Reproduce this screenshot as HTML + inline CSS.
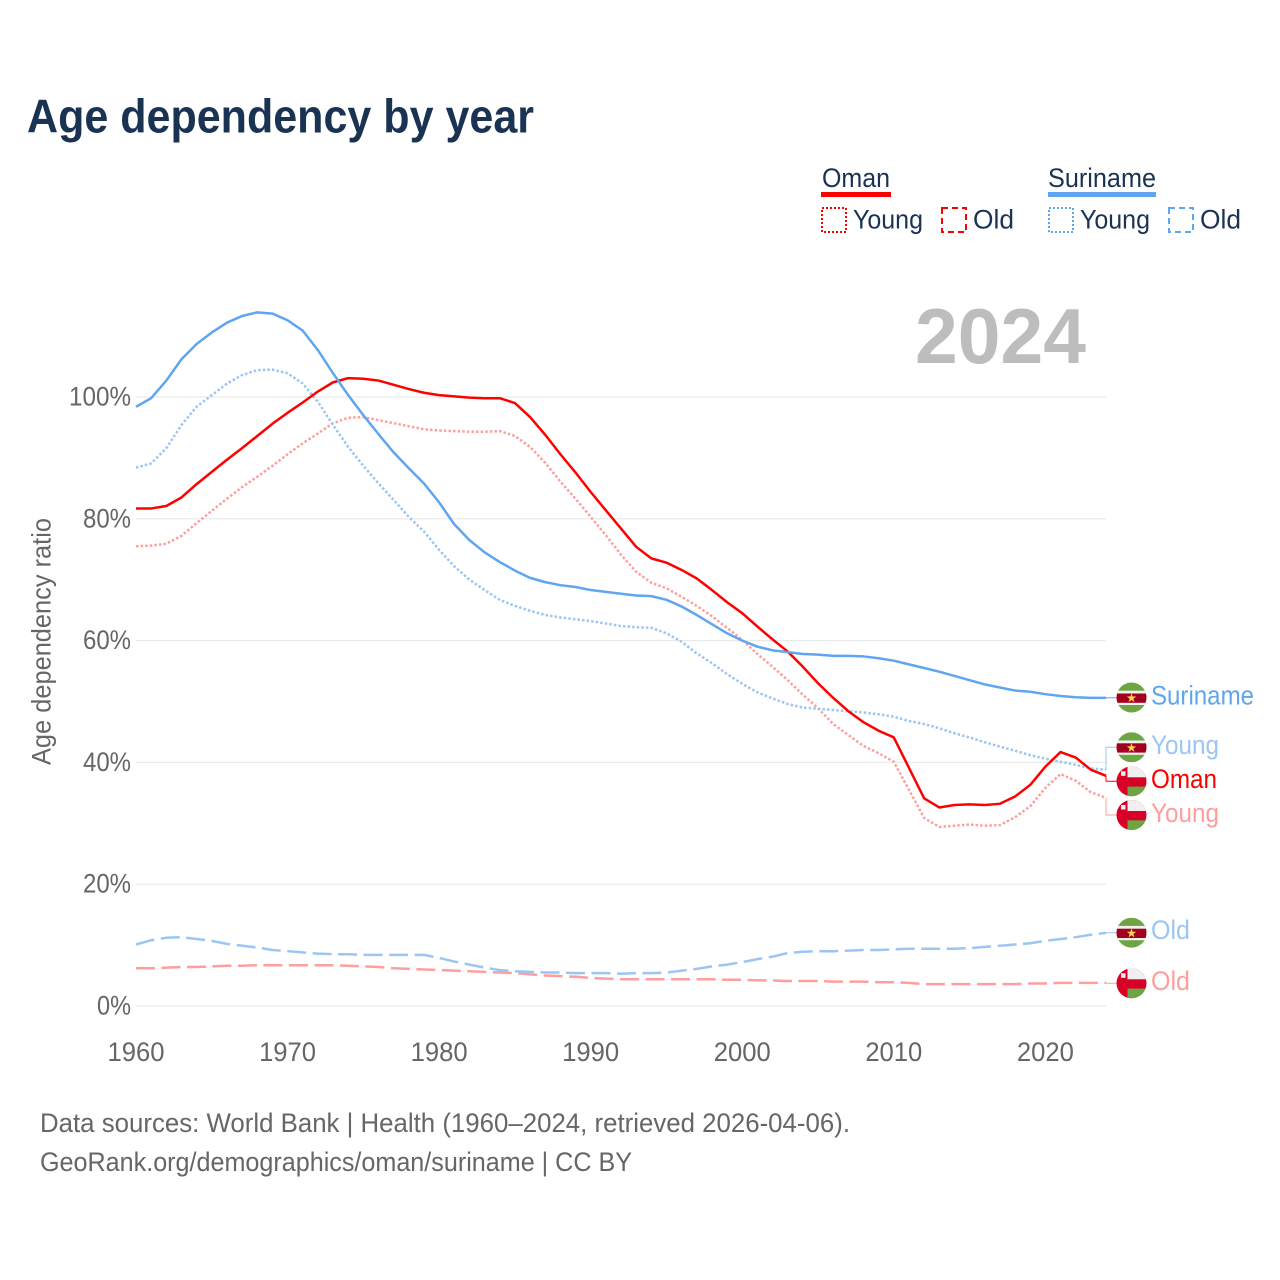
<!DOCTYPE html>
<html lang="en">
<head>
<meta charset="utf-8">
<title>Age dependency by year</title>
<style>
html,body{margin:0;padding:0;background:#fff;}
svg{display:block;}
text{font-family:"Liberation Sans",sans-serif;}
</style>
</head>
<body>
<svg id="chart" xmlns="http://www.w3.org/2000/svg" width="1280" height="1280" viewBox="0 0 1280 1280">
  <defs>
    <clipPath id="flag-clip"><circle cx="0" cy="0" r="15"></circle></clipPath>
    <g id="flag-sr" clip-path="url(#flag-clip)">
      <rect x="-15" y="-15" width="30" height="30" fill="#6da544"></rect>
      <rect x="-15" y="-6.8" width="30" height="14.3" fill="#f0f0f0"></rect>
      <rect x="-15" y="-4" width="30" height="9.3" fill="#a2001d"></rect>
      <polygon transform="translate(0 0.6)" points="0,-5 1.12,-1.55 4.76,-1.55 1.82,0.59 2.94,4.05 0,1.91 -2.94,4.05 -1.82,0.59 -4.76,-1.55 -1.12,-1.55" fill="#ffda44"></polygon>
    </g>
    <g id="flag-om" clip-path="url(#flag-clip)">
      <rect x="-15" y="-15" width="30" height="30" fill="#d80027"></rect>
      <rect x="-4" y="-15" width="19" height="11" fill="#f0f0f0"></rect>
      <rect x="-4" y="5.3" width="19" height="10" fill="#6da544"></rect>
      <rect x="-10.5" y="-10" width="4.5" height="4.5" fill="#f0f0f0"></rect>
    </g>
  </defs>

  <text x="27" y="132.5" font-size="47.5" font-weight="700" fill="#1a3353" textLength="507" lengthAdjust="spacingAndGlyphs">Age dependency by year</text>

  <g>
    <text x="822" y="187" font-size="26.5" fill="#1a3353" textLength="68" lengthAdjust="spacingAndGlyphs">Oman</text>
    <rect x="821" y="192" width="70" height="5" fill="#ff0000"></rect>
    <rect x="822" y="208" width="24" height="24" fill="none" stroke="#ff0000" stroke-width="2" stroke-dasharray="2 2"></rect>
    <text x="853" y="228.5" font-size="26.5" fill="#1a3353" textLength="70" lengthAdjust="spacingAndGlyphs">Young</text>
    <rect x="942" y="208" width="24" height="24" fill="none" stroke="#ff0000" stroke-width="2" stroke-dasharray="6 4"></rect>
    <text x="973" y="228.5" font-size="26.5" fill="#1a3353" textLength="41" lengthAdjust="spacingAndGlyphs">Old</text>

    <text x="1048" y="187" font-size="26.5" fill="#1a3353" textLength="108" lengthAdjust="spacingAndGlyphs">Suriname</text>
    <rect x="1048" y="192" width="108" height="5" fill="#5fa5ef"></rect>
    <rect x="1049" y="208" width="24" height="24" fill="none" stroke="#5fa5ef" stroke-width="2" stroke-dasharray="2 2"></rect>
    <text x="1080" y="228.5" font-size="26.5" fill="#1a3353" textLength="70" lengthAdjust="spacingAndGlyphs">Young</text>
    <rect x="1169" y="208" width="24" height="24" fill="none" stroke="#5fa5ef" stroke-width="2" stroke-dasharray="6 4"></rect>
    <text x="1200" y="228.5" font-size="26.5" fill="#1a3353" textLength="41" lengthAdjust="spacingAndGlyphs">Old</text>
  </g>

  <g id="grid"></g>
  <g id="yticks"></g>
  <g id="xticks"></g>

  <text x="915" y="363" font-size="78" font-weight="700" fill="#bdbdbd" textLength="171" lengthAdjust="spacingAndGlyphs">2024</text>

  <text transform="translate(50.5 765) rotate(-90)" x="0" y="0" font-size="26.5" fill="#666666" textLength="247" lengthAdjust="spacingAndGlyphs">Age dependency ratio</text>

  <g id="series"></g>

  <use href="#flag-sr" x="1131.5" y="697.5"></use>
  <use href="#flag-sr" x="1131.5" y="747.3"></use>
  <use href="#flag-om" x="1131.5" y="781.3"></use>
  <use href="#flag-om" x="1131.5" y="815"></use>
  <use href="#flag-sr" x="1131.5" y="932.7"></use>
  <use href="#flag-om" x="1131.5" y="983.3"></use>

  <text x="1151" y="704.5" font-size="26.5" fill="#5fa5ef" textLength="103" lengthAdjust="spacingAndGlyphs">Suriname</text>
  <text x="1151" y="754" font-size="26.5" fill="#9cc6f1" textLength="68" lengthAdjust="spacingAndGlyphs">Young</text>
  <text x="1151" y="788" font-size="26.5" fill="#ff0000" textLength="66" lengthAdjust="spacingAndGlyphs">Oman</text>
  <text x="1151" y="822" font-size="26.5" fill="#ff9e9e" textLength="68" lengthAdjust="spacingAndGlyphs">Young</text>
  <text x="1151" y="939" font-size="26.5" fill="#9cc6f1" textLength="39" lengthAdjust="spacingAndGlyphs">Old</text>
  <text x="1151" y="990" font-size="26.5" fill="#ff9e9e" textLength="39" lengthAdjust="spacingAndGlyphs">Old</text>

  <text x="40" y="1132" font-size="26.5" fill="#666666" textLength="810" lengthAdjust="spacingAndGlyphs">Data sources: World Bank | Health (1960–2024, retrieved 2026-04-06).</text>
  <text x="40" y="1171" font-size="26.5" fill="#666666" textLength="592" lengthAdjust="spacingAndGlyphs">GeoRank.org/demographics/oman/suriname | CC BY</text>
</svg>

<script>
const startYear = 1960;
const xTickLabels = [1960, 1970, 1980, 1990, 2000, 2010, 2020];
const yTickLabels = [0, 20, 40, 60, 80, 100];

const omanTotal = [81.7,81.7,82.1,83.5,85.7,87.7,89.7,91.6,93.6,95.6,97.4,99.1,100.9,102.4,103.1,103.0,102.7,102.0,101.3,100.7,100.3,100.1,99.9,99.8,99.8,99.0,96.7,93.8,90.6,87.6,84.4,81.4,78.4,75.4,73.5,72.8,71.6,70.2,68.3,66.3,64.5,62.3,60.2,58.2,55.7,53.0,50.6,48.4,46.6,45.2,44.1,39.1,34.1,32.6,33.0,33.1,33.0,33.2,34.4,36.3,39.3,41.7,40.8,38.8,37.8];
const omanYoung = [75.5,75.6,75.9,77.2,79.3,81.3,83.3,85.2,86.9,88.7,90.6,92.4,94.0,95.7,96.6,96.7,96.2,95.7,95.2,94.7,94.5,94.4,94.3,94.3,94.4,93.6,91.8,89.2,86.1,83.3,80.3,77.3,74.1,71.3,69.5,68.6,67.2,65.7,64.0,62.1,60.1,57.8,55.7,53.5,51.1,48.9,46.3,44.5,42.7,41.5,40.1,35.5,30.9,29.4,29.6,29.8,29.6,29.7,31.0,32.8,35.8,38.1,37.0,35.1,34.2];
const omanOld = [6.2,6.2,6.3,6.4,6.4,6.5,6.6,6.6,6.7,6.7,6.7,6.7,6.7,6.7,6.6,6.5,6.4,6.2,6.1,6.0,5.9,5.8,5.7,5.6,5.5,5.4,5.2,5.0,4.9,4.8,4.6,4.5,4.4,4.4,4.4,4.4,4.4,4.4,4.4,4.3,4.3,4.2,4.2,4.1,4.1,4.1,4.0,4.0,4.0,3.9,3.9,3.8,3.6,3.6,3.6,3.6,3.6,3.6,3.6,3.7,3.7,3.8,3.8,3.8,3.8];
const surinameTotal = [98.4,99.8,102.7,106.2,108.7,110.6,112.2,113.3,113.9,113.7,112.6,110.9,107.7,103.9,100.3,97.0,93.9,90.9,88.3,85.8,82.7,79.1,76.5,74.5,72.9,71.5,70.3,69.6,69.1,68.8,68.3,68.0,67.7,67.4,67.3,66.7,65.6,64.2,62.7,61.2,60.0,59.0,58.4,58.1,57.8,57.7,57.5,57.5,57.4,57.1,56.7,56.1,55.5,54.9,54.2,53.5,52.8,52.3,51.8,51.6,51.2,50.9,50.7,50.6,50.6];
const surinameYoung = [88.4,89.1,91.6,95.4,98.4,100.3,102.2,103.6,104.4,104.5,103.9,102.2,99.2,95.4,91.8,88.7,85.8,83.1,80.3,77.9,74.9,72.2,70.0,68.3,66.7,65.7,64.9,64.2,63.8,63.5,63.2,62.8,62.4,62.2,62.1,61.2,59.8,57.9,56.3,54.5,52.9,51.5,50.5,49.6,49.0,48.8,48.6,48.4,48.2,47.9,47.5,46.8,46.3,45.6,44.8,44.1,43.3,42.6,41.9,41.2,40.6,40.1,39.6,39.0,38.8];
const surinameOld = [10.1,10.8,11.2,11.3,11.0,10.7,10.2,9.9,9.6,9.2,9.0,8.8,8.6,8.5,8.5,8.4,8.4,8.4,8.4,8.4,7.9,7.3,6.8,6.3,5.9,5.7,5.6,5.5,5.5,5.4,5.4,5.4,5.3,5.4,5.4,5.5,5.8,6.1,6.5,6.8,7.2,7.7,8.1,8.7,8.9,9.0,9.0,9.1,9.2,9.2,9.3,9.4,9.4,9.4,9.4,9.5,9.7,9.9,10.1,10.3,10.7,11.0,11.3,11.7,12.0];

const SVG_NS = 'http://www.w3.org/2000/svg';
function xScale(year) { return 136 + (year - 1960) * (1106 - 136) / 64; }
function yScale(pct) { return 1006 - pct * 6.09; }

const gridGroup = document.getElementById('grid');
const yGroup = document.getElementById('yticks');
const xGroup = document.getElementById('xticks');
const seriesGroup = document.getElementById('series');

yTickLabels.forEach(function (tick) {
  const line = document.createElementNS(SVG_NS, 'line');
  
  
  line.setAttribute('x1', xScale(1960));
  line.setAttribute('x2', xScale(2024));
  line.setAttribute('y1', yScale(tick));
  line.setAttribute('y2', yScale(tick));
  line.setAttribute('stroke', '#e9e9e9');
  line.setAttribute('stroke-width', '1.2');
  gridGroup.appendChild(line);

  const label = document.createElementNS(SVG_NS, 'text');
  
  
  label.setAttribute('x', 131);
  label.setAttribute('y', yScale(tick) + 8.5);
  label.setAttribute('text-anchor', 'end');
  label.setAttribute('font-size', '26.5');
  label.setAttribute('fill', '#666666');
  const text = tick + '%';
  label.setAttribute('textLength', text.length === 4 ? 62 : (text.length === 3 ? 48 : 34));
  label.setAttribute('lengthAdjust', 'spacingAndGlyphs');
  label.textContent = text;
  yGroup.appendChild(label);
});

xTickLabels.forEach(function (tick) {
  const label = document.createElementNS(SVG_NS, 'text');
  
  
  label.setAttribute('x', xScale(tick));
  label.setAttribute('y', 1061);
  label.setAttribute('text-anchor', 'middle');
  label.setAttribute('font-size', '26.5');
  label.setAttribute('fill', '#666666');
  label.setAttribute('textLength', 57);
  label.setAttribute('lengthAdjust', 'spacingAndGlyphs');
  label.textContent = tick;
  xGroup.appendChild(label);
});

function drawSeries(values, color, dash, name) {
  const d = values.map(function (v, i) {
    return (i ? 'L' : 'M') + xScale(startYear + i).toFixed(2) + ' ' + yScale(v).toFixed(2);
  }).join(' ');
  const path = document.createElementNS(SVG_NS, 'path');
  
  
  path.setAttribute('d', d);
  path.setAttribute('fill', 'none');
  path.setAttribute('stroke', color);
  path.setAttribute('stroke-width', '2.5');
  path.setAttribute('stroke-linejoin', 'round');
  if (dash) path.setAttribute('stroke-dasharray', dash);
  seriesGroup.appendChild(path);
}

function drawConnector(values, flagY, color, name) {
  const endY = yScale(values[values.length - 1]);
  const endX = xScale(2024);
  const path = document.createElementNS(SVG_NS, 'path');
  
  
  path.setAttribute('d', 'M' + endX + ' ' + endY + ' V' + flagY + ' H1117');
  path.setAttribute('fill', 'none');
  path.setAttribute('stroke', color);
  path.setAttribute('stroke-width', '1');
  seriesGroup.appendChild(path);
}

drawConnector(omanYoung, 815, '#ff9e9e', 'connector-oman-young');
drawConnector(surinameYoung, 747.3, '#9cc6f1', 'connector-suriname-young');
drawConnector(omanTotal, 781.3, '#ff0000', 'connector-oman-total');
drawConnector(surinameTotal, 697.7, '#5fa5ef', 'connector-suriname-total');
drawConnector(omanOld, 983.3, '#ff9e9e', 'connector-oman-old');
drawConnector(surinameOld, 932.7, '#9cc6f1', 'connector-suriname-old');

drawSeries(omanOld, '#ff9e9e', '19 6.5', 'line-oman-old');
drawSeries(surinameOld, '#9cc6f1', '19 6.5', 'line-suriname-old');
drawSeries(omanYoung, '#ff9e9e', '2.5 2.1', 'line-oman-young');
drawSeries(surinameYoung, '#9cc6f1', '2.5 2.1', 'line-suriname-young');
drawSeries(omanTotal, '#ff0000', '', 'line-oman-total');
drawSeries(surinameTotal, '#5fa5ef', '', 'line-suriname-total');
</script>
</body>
</html>
